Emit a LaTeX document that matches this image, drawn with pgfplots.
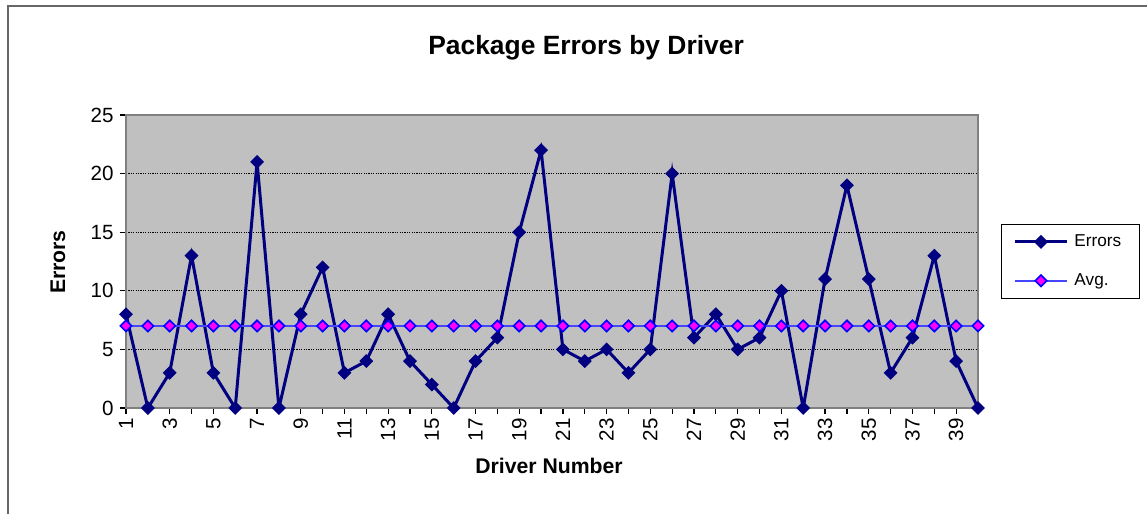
\documentclass[border=0pt]{standalone}
\usepackage{pgfplots}
\pgfplotsset{compat=1.18}
\usepackage{fontspec}
\setmainfont{Liberation Sans}
\definecolor{navy}{RGB}{0,0,128}
\definecolor{plotgray}{RGB}{192,192,192}
\definecolor{framegray}{RGB}{128,128,128}
\definecolor{avgblue}{RGB}{70,70,255}
\definecolor{magenta2}{RGB}{255,0,255}
\begin{document}
\begin{tikzpicture}[x=0.5pt,y=0.5pt]
\useasboundingbox (0,0) rectangle (1147,514);
\draw[framegray!80!black, line width=1pt] (7.5,0) -- (7.5,508) -- (1147,508);
\begin{axis}[
  at={(63pt,53pt)}, anchor=south west,
  scale only axis,
  width=426pt, height=146.5pt,
  xmin=1, xmax=40, ymin=0, ymax=25,
  axis background/.style={fill=plotgray},
  axis line style={draw=framegray, line width=1pt},
  xtick={1,...,40},
  xticklabels={1,,3,,5,,7,,9,,11,,13,,15,,17,,19,,21,,23,,25,,27,,29,,31,,33,,35,,37,,39,},
  ytick={0,5,10,15,20,25},
  tick align=outside, tick pos=left,
  major tick length=3pt,
  tick style={black, line width=0.6pt},
  ymajorgrids,
  grid style={black, dash pattern=on 0.6pt off 0.6pt, line width=0.5pt},
  /pgf/number format/assume math mode=true,
  ticklabel style={font=\fontsize{10.3}{12}\selectfont},
  xticklabel style={rotate=90, anchor=east, inner sep=2pt},
  yticklabel style={inner sep=3pt},
  title={Package Errors by Driver},
  title style={font=\fontsize{13.2}{15}\selectfont\bfseries, at={(0.540,1.188)}, anchor=center},
  xlabel={Driver Number},
  xlabel style={font=\fontsize{10.6}{12}\selectfont\bfseries, at={(0.4965,-0.198)}, anchor=center},
  ylabel={Errors},
  ylabel style={font=\fontsize{10.6}{12}\selectfont\bfseries, at={(-0.0798,0.498)}, anchor=center, rotate=0},
  legend style={at={(1.027,0.628)}, anchor=north west, draw=black, line width=0.5pt, fill=white,
    font=\fontsize{8.6}{10}\selectfont, row sep=8pt, inner xsep=6pt, inner ysep=3pt, cells={anchor=west},
    nodes={inner xsep=3pt}},
  legend image code/.code={\draw[mark repeat=2, mark phase=2, #1] plot coordinates {(0pt,0pt) (13pt,0pt) (26pt,0pt)};},
]
\addplot[navy, line width=1.5pt, mark=square*, mark size=2.2pt, mark options={rotate=45, fill=navy, draw=navy, line width=0.5pt}]
coordinates {
(1,8) (2,0) (3,3) (4,13) (5,3) (6,0) (7,21) (8,0) (9,8) (10,12)
(11,3) (12,4) (13,8) (14,4) (15,2) (16,0) (17,4) (18,6) (19,15) (20,22)
(21,5) (22,4) (23,5) (24,3) (25,5) (26,20) (27,6) (28,8) (29,5) (30,6)
(31,10) (32,0) (33,11) (34,19) (35,11) (36,3) (37,6) (38,13) (39,4) (40,0)
};
\addlegendentry{Errors}
\addplot[avgblue, line width=0.8pt, mark=square*, mark size=2.0pt, mark options={rotate=45, fill=magenta2, draw=blue, line width=0.8pt}]
coordinates {
(1,7) (2,7) (3,7) (4,7) (5,7) (6,7) (7,7) (8,7) (9,7) (10,7)
(11,7) (12,7) (13,7) (14,7) (15,7) (16,7) (17,7) (18,7) (19,7) (20,7)
(21,7) (22,7) (23,7) (24,7) (25,7) (26,7) (27,7) (28,7) (29,7) (30,7)
(31,7) (32,7) (33,7) (34,7) (35,7) (36,7) (37,7) (38,7) (39,7) (40,7)
};
\addlegendentry{Avg.}
\end{axis}
\end{tikzpicture}
\end{document}
